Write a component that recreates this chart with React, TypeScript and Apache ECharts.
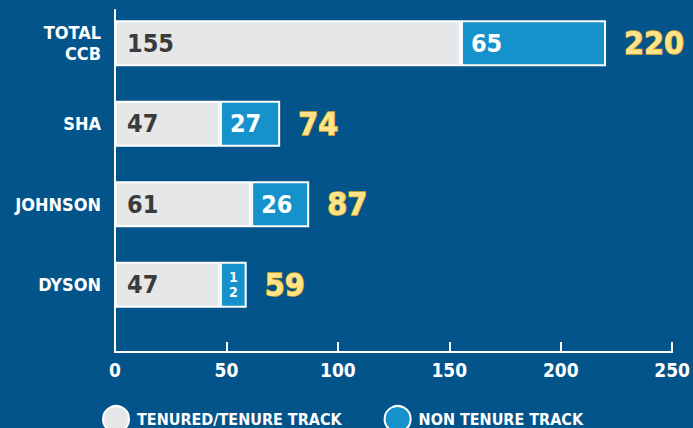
import React, { useEffect, useRef } from "react";
import * as echarts from "echarts";

const categories = ["TOTAL\nCCB", "SHA", "JOHNSON", "DYSON"];
const tenured = [155, 47, 61, 47];
const nonTenure = [65, 27, 26, 12];
const totals = [220, 74, 87, 59];
const xTicks = [0, 50, 100, 150, 200, 250];

const FONT = "'DejaVu Sans Condensed', 'Roboto', sans-serif";
const BG = "#03548a";
const GREY = "#e6e7e8";
const BLUE = "#1592cb";

export default function App() {
  const ref = useRef<HTMLDivElement>(null);
  useEffect(() => {
    if (!ref.current) return;
    const chart = echarts.init(ref.current, null, { renderer: "svg" });
    const nonTenureData = nonTenure.map((v, i) =>
      i === 3
        ? {
            value: v,
            label: {
              formatter: "1\n2",
              position: "inside",
              fontSize: 14,
              lineHeight: 15,
            },
          }
        : v
    );
    chart.setOption({
      animation: false,
      backgroundColor: BG,
      textStyle: { fontFamily: FONT },
      grid: [
        { left: 115, right: 20, top: 3, height: 322 },
        { left: 115, right: 20, top: 10, bottom: 76 },
      ],
      legend: {
        data: ["TENURED/TENURE TRACK", "NON TENURE TRACK"],
        left: 102,
        top: 405,
        padding: 0,
        icon: "circle",
        itemWidth: 26,
        itemHeight: 26,
        itemGap: 42,
        textStyle: {
          color: "#ffffff",
          fontSize: 16,
          fontWeight: "bold",
          fontFamily: FONT,
          padding: [0, 0, 0, 3],
        },
      },
      xAxis: [
        { gridIndex: 0, type: "value", min: 0, max: 250, show: false },
        {
          gridIndex: 1,
          type: "value",
          min: xTicks[0],
          max: xTicks[xTicks.length - 1],
          interval: 50,
          axisLine: { show: true, lineStyle: { color: "#ffffff", width: 2 } },
          axisTick: {
            show: true,
            inside: true,
            length: 10,
            lineStyle: { color: "#ffffff", width: 2 },
          },
          splitLine: { show: false },
          axisLabel: {
            color: "#ffffff",
            fontSize: 19,
            fontWeight: "bold",
            fontFamily: FONT,
            margin: 8,
          },
        },
      ],
      yAxis: [
        {
          gridIndex: 0,
          type: "category",
          inverse: true,
          data: categories,
          axisLine: { show: false },
          axisTick: { show: false },
          axisLabel: {
            color: "#ffffff",
            fontSize: 18,
            fontWeight: "bold",
            fontFamily: FONT,
            lineHeight: 21,
            margin: 14,
            align: "right",
          },
        },
        {
          gridIndex: 1,
          type: "value",
          min: 0,
          max: 1,
          axisLine: { show: true, lineStyle: { color: "#ffffff", width: 2 } },
          axisTick: { show: false },
          axisLabel: { show: false },
          splitLine: { show: false },
        },
      ],
      series: [
        {
          name: "TENURED/TENURE TRACK",
          type: "bar",
          stack: "a",
          xAxisIndex: 0,
          yAxisIndex: 0,
          barWidth: 46,
          data: tenured,
          itemStyle: { color: GREY, borderColor: "#ffffff", borderWidth: 2 },
          label: {
            show: true,
            position: "insideLeft",
            distance: 12,
            color: "#3b3b3b",
            fontSize: 25,
            fontWeight: "bold",
            fontFamily: FONT,
          },
        },
        {
          name: "NON TENURE TRACK",
          type: "bar",
          stack: "a",
          xAxisIndex: 0,
          yAxisIndex: 0,
          barWidth: 46,
          data: nonTenureData,
          itemStyle: { color: BLUE, borderColor: "#ffffff", borderWidth: 2 },
          label: {
            show: true,
            position: "insideLeft",
            distance: 10,
            color: "#ffffff",
            fontSize: 25,
            fontWeight: "bold",
            fontFamily: FONT,
          },
        },
        {
          name: "TOTAL",
          type: "bar",
          xAxisIndex: 0,
          yAxisIndex: 0,
          barWidth: 46,
          barGap: "-100%",
          data: totals,
          silent: true,
          itemStyle: { color: "rgba(0,0,0,0)" },
          label: {
            show: true,
            position: "right",
            distance: 18,
            color: "#fde48c",
            textBorderColor: "#e0a81c",
            textBorderWidth: 1.5,
            fontSize: 32,
            fontWeight: "bold",
            fontFamily: FONT,
          },
          z: 1,
        },
      ],
    });
    return () => chart.dispose();
  }, []);
  return (
    <div
      ref={ref}
      style={{ position: "fixed", left: 0, top: 0, width: 693, height: 428 }}
    />
  );
}
